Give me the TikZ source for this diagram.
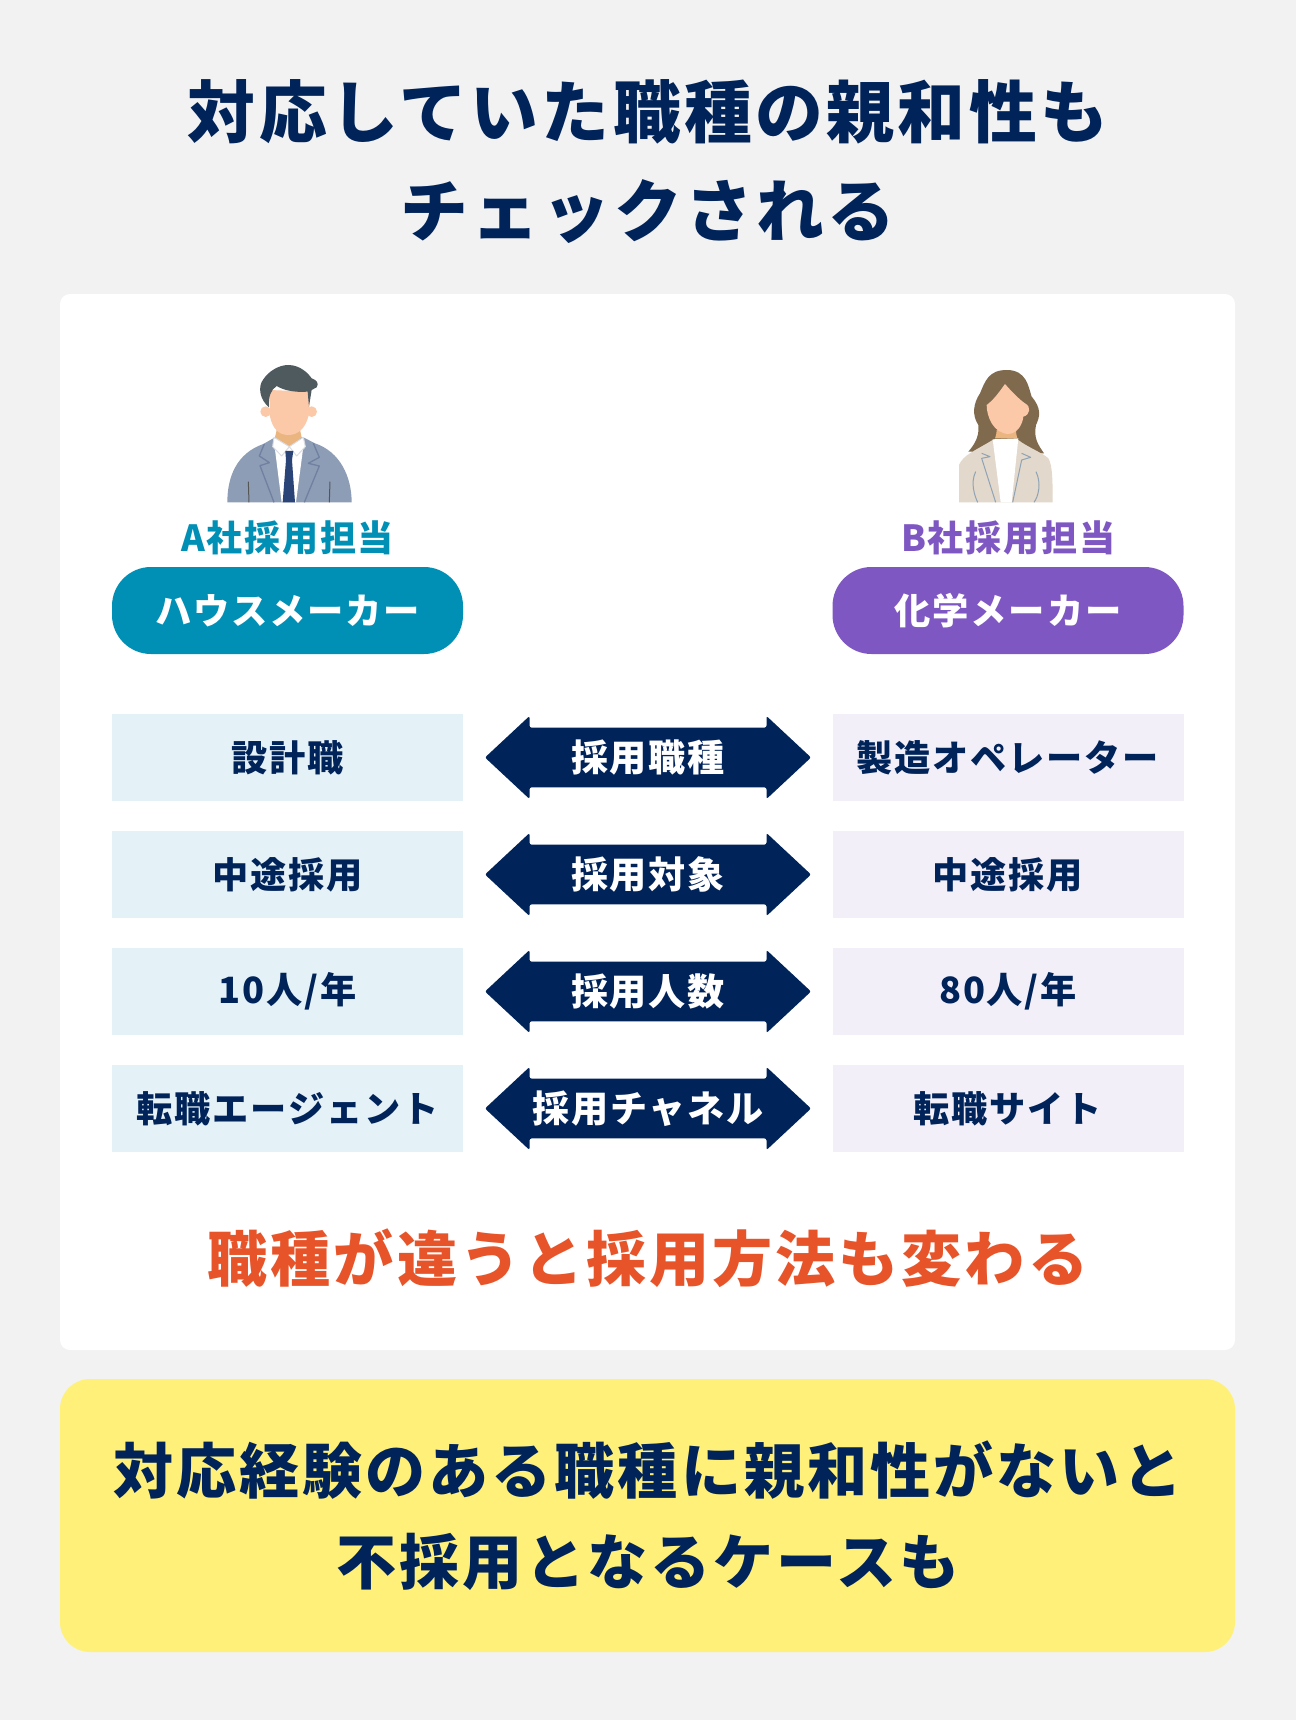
\documentclass[tikz,border=0pt]{standalone}
\usepackage{fontspec}
\setmainfont{Noto Sans CJK JP}[LetterSpace=5]
\usetikzlibrary{positioning, shapes.arrows}

\definecolor{navy}{HTML}{00235A}
\definecolor{tealA}{HTML}{008FB5}
\definecolor{purpleB}{HTML}{7E57C2}
\definecolor{paleA}{HTML}{E4F1F6}
\definecolor{paleB}{HTML}{F2EFF9}
\definecolor{orangeTxt}{HTML}{E8542A}
\definecolor{yellowBox}{HTML}{FFF07A}
\definecolor{bgGray}{HTML}{F2F2F2}
\definecolor{suit}{HTML}{8E9DB6}
\definecolor{suitLine}{HTML}{6F80A0}
\definecolor{pocket}{HTML}{555555}
\definecolor{neck}{HTML}{EBB57F}
\definecolor{collar}{HTML}{D9DDE3}
\definecolor{tie}{HTML}{2A4478}
\definecolor{skin}{HTML}{FBC8A8}
\definecolor{hairM}{HTML}{4E5A5E}
\definecolor{hairF}{HTML}{7F6A4E}
\definecolor{jacket}{HTML}{E2D8CB}
\definecolor{jacketLine}{HTML}{8FA3B5}

\newcommand{\fsize}[1]{\fontsize{#1}{#1}\selectfont\bfseries}

\begin{document}
\begin{tikzpicture}[
    x=1pt, y=-1pt,
    panel/.style={anchor=north west, inner sep=0pt, outer sep=0pt},
    titulo/.style={text=navy, font=\fsize{67.8}, inner sep=0pt},
    grande/.style={font=\fsize{60.1}, inner sep=0pt},
    etiqueta/.style={font=\fsize{36}, inner sep=0pt},
    pill/.style={rounded corners=39pt, text=white, font=\fsize{36.3}, minimum width=351pt, minimum height=87pt, inner sep=0pt, outer sep=0pt},
    celda/.style={text=navy, font=\fsize{36.2}, minimum width=351pt, minimum height=87pt, inner sep=0pt, outer sep=0pt},
    celdaA/.style={celda, fill=paleA},
    celdaB/.style={celda, fill=paleB},
    flecha/.style={double arrow, double arrow head extend=7pt, double arrow tip angle=86, fill=navy, text=white, rounded corners=2pt,
        font=\fsize{37.1}, minimum height=326pt, minimum width=83pt, inner sep=0pt, outer sep=0pt}
]
\useasboundingbox (0,0) rectangle (1296,1720);

% Fondos
\node[panel, fill=bgGray, minimum width=1296pt, minimum height=1720pt] (fondo) at (0,0) {};
\node[panel, fill=white, rounded corners=10pt, minimum width=1175pt, minimum height=1056pt] (blanco) at (60,294) {};
\node[panel, fill=yellowBox, rounded corners=30pt, minimum width=1175pt, minimum height=273pt] (amarillo) at (60,1379) {};

% Titulo
\node[titulo] (titulo1) at (648,112) {対応していた職種の親和性も};
\node[titulo] (titulo2) at (648,212) {チェックされる};

% Hombre
\begin{scope}[shift={(200,350)}, x=0.3333pt, y=-0.3333pt]
\fill[suit] (82,457) .. controls (82,380) and (110,310) .. (190,282) -- (225,262) -- (310,262) -- (345,280) .. controls (420,305) and (455,380) .. (455,457) -- cycle;
\fill[white] (222,275) -- (245,457) -- (288,457) -- (312,275) -- cycle;
\draw[line width=1.3pt, suitLine, line join=round] (193,282) -- (178,318) -- (208,338) -- (180,347) -- (222,457);
\draw[line width=1.3pt, suitLine, line join=round] (340,280) -- (358,322) -- (325,340) -- (358,348) -- (313,457);
\draw[line width=1pt, pocket] (145,395) -- (147,457);
\draw[line width=1pt, pocket] (390,395) -- (388,457);
\fill[neck] (230,240) -- (225,262) -- (265,295) -- (305,262) -- (300,240) -- cycle;
\draw[line width=1pt, draw=collar, fill=white, line join=round] (222,262) -- (218,290) -- (245,318) -- (268,290) -- (290,318) -- (316,290) -- (310,262) -- (268,290) -- cycle;
\fill[tie] (256,303) -- (280,303) -- (276,330) -- (285,457) -- (248,457) -- (258,330) -- cycle;
\fill[skin] (197,185) circle (16);
\fill[skin] (335,185) circle (16);
\fill[skin] (208,120) -- (330,125) -- (325,200) .. controls (315,235) and (295,255) .. (265,255) .. controls (235,255) and (218,235) .. (210,200) -- cycle;
\fill[hairM] (207,172) .. controls (180,150) and (172,110) .. (190,88) .. controls (205,65) and (235,45) .. (265,45) .. controls (300,45) and (325,70) .. (335,85) .. controls (350,90) and (358,100) .. (350,112) -- (335,120) -- (327,170) -- (323,125) .. controls (280,128) and (250,120) .. (230,108) .. controls (212,120) and (205,140) .. (207,172) -- cycle;
\end{scope}

% Mujer
\begin{scope}[shift={(930,350)}, x=0.3333pt, y=-0.3333pt]
\fill[hairF] (115,305) .. controls (150,265) and (145,240) .. (145,225) .. controls (125,195) and (130,160) .. (150,130) .. controls (165,95) and (175,60) .. (230,60) .. controls (290,60) and (295,110) .. (305,140) .. controls (335,175) and (330,200) .. (318,225) .. controls (310,265) and (325,285) .. (342,310) -- cycle;
\fill[jacket] (87,457) -- (87,345) .. controls (100,315) and (130,305) .. (188,270) -- (265,270) .. controls (290,290) and (340,310) .. (355,325) .. controls (368,345) and (368,400) .. (368,457) -- cycle;
\fill[white] (188,268) -- (212,457) -- (245,457) -- (265,265) -- cycle;
\fill[neck] (200,240) .. controls (200,255) and (195,262) .. (195,265) -- (262,265) .. controls (262,262) and (258,255) .. (258,240) -- cycle;
\fill[skin] (225,102) .. controls (205,130) and (190,150) .. (170,165) .. controls (170,200) and (190,250) .. (235,252) .. controls (265,250) and (278,220) .. (280,200) .. controls (300,195) and (305,170) .. (285,160) .. controls (270,150) and (245,125) .. (225,102) -- cycle;
\draw[line width=1pt, jacketLine, line join=round] (155,310) -- (180,320) -- (155,325) -- (197,457);
\draw[line width=1pt, jacketLine, line join=round] (275,310) -- (302,322) -- (275,330) -- (248,457);
\draw[line width=1pt, jacketLine] (137,365) .. controls (120,400) and (135,440) .. (143,457);
\draw[line width=1pt, jacketLine] (318,365) .. controls (335,400) and (325,440) .. (312,457);
\end{scope}

% Empresas
\node[pill, fill=tealA] (pillA) at (287.5,610.5) {ハウスメーカー};
\node[pill, fill=purpleB] (pillB) at (1008,610.5) {化学メーカー};
\node[etiqueta, text=tealA, above=12pt of pillA] (etiquetaA) {A社採用担当};
\node[etiqueta, text=purpleB, above=12pt of pillB] (etiquetaB) {B社採用担当};

% Filas
\node[celdaA, below=60pt of pillA] (puestoA) {設計職};
\node[celdaA, below=30pt of puestoA] (objetoA) {中途採用};
\node[celdaA, below=30pt of objetoA] (numeroA) {10人/年};
\node[celdaA, below=30pt of numeroA] (canalA) {転職エージェント};
\node[celdaB, below=60pt of pillB] (puestoB) {製造オペレーター};
\node[celdaB, below=30pt of puestoB] (objetoB) {中途採用};
\node[celdaB, below=30pt of objetoB] (numeroB) {80人/年};
\node[celdaB, below=30pt of numeroB] (canalB) {転職サイト};

% Flechas
\node[flecha, right=22pt of puestoA] (flechaPuesto) {採用職種};
\node[flecha, right=22pt of objetoA] (flechaObjeto) {採用対象};
\node[flecha, right=22pt of numeroA] (flechaNumero) {採用人数};
\node[flecha, right=22pt of canalA] (flechaCanal) {採用チャネル};

% Conclusiones
\node[grande, text=orangeTxt] (conclusion) at (648,1258) {職種が違うと採用方法も変わる};
\node[grande, text=navy] (aviso1) at (648,1470) {対応経験のある職種に親和性がないと};
\node[grande, text=navy] (aviso2) at (648,1562) {不採用となるケースも};

\end{tikzpicture}
\end{document}
